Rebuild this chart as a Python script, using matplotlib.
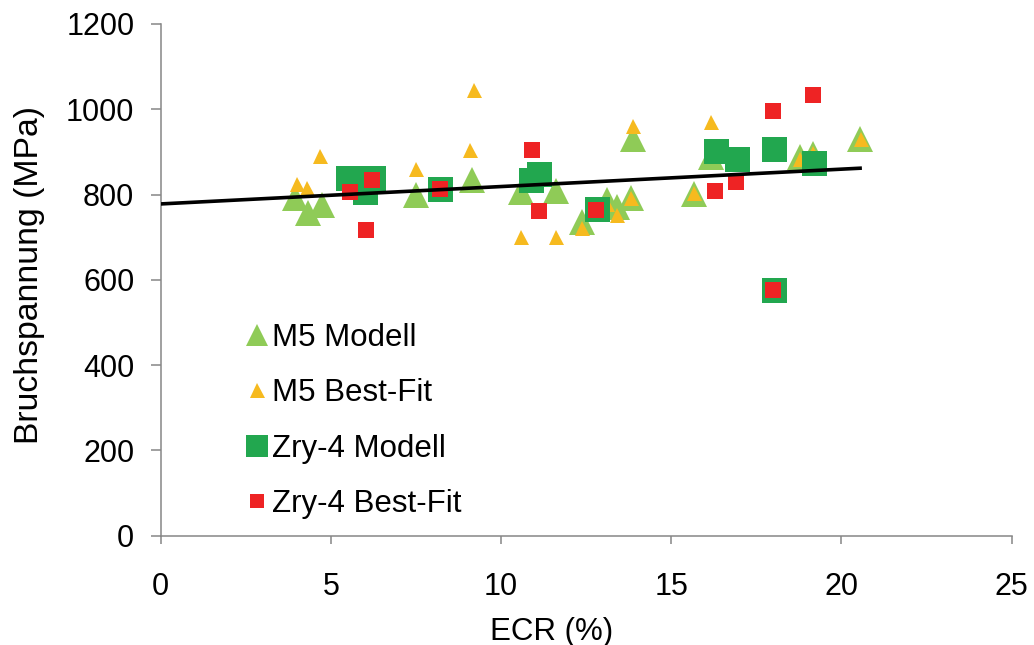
import matplotlib
matplotlib.use("Agg")
import matplotlib.pyplot as plt

plt.rcParams['font.family'] = ['Liberation Sans', 'DejaVu Sans']

# Data
m5_modell_x = [3.96, 4.32, 4.74, 7.50, 9.14, 10.59, 11.60, 12.39, 13.10, 13.40, 13.81, 13.89, 15.68, 16.18, 18.78, 19.17, 20.55]
m5_modell_y = [792, 756, 775, 798, 834, 806, 808, 736, 787, 771, 791, 931, 802, 888, 888, 896, 931]

m5_bestfit_x = [3.99, 4.30, 4.69, 7.49, 9.10, 9.19, 10.59, 11.60, 12.39, 13.10, 13.40, 13.81, 13.89, 15.68, 16.18, 18.78, 19.17, 20.58]
m5_bestfit_y = [824, 815, 890, 861, 905, 1046, 701, 701, 722, 777, 752, 793, 960, 804, 970, 884, 897, 931]

zry_modell_x = [5.50, 6.23, 5.99, 8.22, 10.88, 11.12, 12.81, 16.30, 16.92, 18.02, 19.19, 18.02]
zry_modell_y = [838, 838, 806, 813, 834, 849, 766, 902, 884, 908, 874, 577]

zry_bestfit_x = [5.55, 6.22, 6.02, 8.22, 10.91, 11.12, 12.79, 16.29, 16.90, 18.00, 19.17, 18.00]
zry_bestfit_y = [806, 835, 716, 814, 904, 761, 763, 808, 830, 996, 1033, 576]

trend_x = [0, 20.6]
trend_y = [778, 862]

x_ticks = [0, 5, 10, 15, 20, 25]
y_ticks = [0, 200, 400, 600, 800, 1000, 1200]

c_m5_mod = '#8FCB57'
c_m5_bf = '#F6BA1F'
c_zry_mod = '#22A74F'
c_zry_bf = '#EE2324'

fig = plt.figure(figsize=(10.34, 6.45), dpi=100)
ax = fig.add_axes([0.1554, 0.1695, 0.8230, 0.7933])

ax.plot(m5_modell_x, m5_modell_y, linestyle='none', marker='^', markersize=18.7,
        color=c_m5_mod, markeredgewidth=0, label='M5 Modell', zorder=3)
ax.plot(m5_bestfit_x, m5_bestfit_y, linestyle='none', marker='^', markersize=10.8,
        color=c_m5_bf, markeredgewidth=0, label='M5 Best-Fit', zorder=4)
ax.plot(zry_modell_x, zry_modell_y, linestyle='none', marker='s', markersize=18,
        color=c_zry_mod, markeredgewidth=0, label='Zry-4 Modell', zorder=5)
ax.plot(zry_bestfit_x, zry_bestfit_y, linestyle='none', marker='s', markersize=11.5,
        color=c_zry_bf, markeredgewidth=0, label='Zry-4 Best-Fit', zorder=6)
ax.plot(trend_x, trend_y, color='black', linewidth=2.6, zorder=7, solid_capstyle='butt')

ax.set_xlim(0, 25)
ax.set_ylim(0, 1200)
ax.set_xticks(x_ticks)
ax.set_yticks(y_ticks)

for s in ['top', 'right']:
    ax.spines[s].set_visible(False)
for s in ['left', 'bottom']:
    ax.spines[s].set_color('#868686')
    ax.spines[s].set_linewidth(1.1)

ax.tick_params(axis='y', direction='out', length=7, width=1.1, color='#868686',
               labelsize=22, pad=12)
ax.tick_params(axis='x', direction='out', length=6, width=1.1, color='#868686',
               labelsize=22, pad=20)

ax.set_xlabel('ECR (%)', fontsize=22.5)
ax.xaxis.set_label_coords(0.459, -0.158)
ax.set_ylabel('Bruchspannung (MPa)', fontsize=24.3)
ax.yaxis.set_label_coords(-0.1365, 0.509)

leg = ax.legend(loc='upper left', bbox_to_anchor=(0.0855, 0.441), frameon=False,
                fontsize=22.5, handletextpad=0.12, labelspacing=0.82,
                handlelength=0.7, borderaxespad=0)
for h, ms in zip(leg.legend_handles, [16, 10.8, 16, 10.2]):
    h.set_markersize(ms)

fig.savefig('out.png', dpi=100)
